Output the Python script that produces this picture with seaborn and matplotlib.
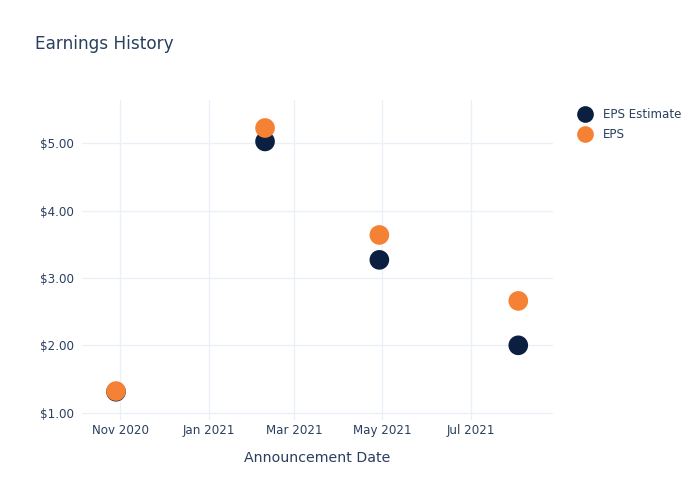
import matplotlib
matplotlib.use("Agg")
import matplotlib.pyplot as plt
import matplotlib.dates as mdates
from matplotlib.ticker import FuncFormatter, FixedLocator
import seaborn as sns
import pandas as pd

dates = ["2020-10-29", "2021-02-09", "2021-04-29", "2021-08-03"]
eps_estimate = [1.31, 5.03, 3.27, 2.00]
eps_actual = [1.32, 5.23, 3.64, 2.66]
series_names = ["EPS Estimate", "EPS"]
colors = ["#0b1f41", "#f58135"]
y_ticks = [1, 2, 3, 4, 5]

df = pd.DataFrame({
    "date": pd.to_datetime(dates * 2),
    "value": eps_estimate + eps_actual,
    "series": [series_names[0]] * len(dates) + [series_names[1]] * len(dates),
})

sns.set_theme(style="white")
plt.rcParams["font.family"] = ["DejaVu Sans"]
text_color = "#2a3f5f"
grid_color = "#ebf0f8"

fig = plt.figure(figsize=(7, 5), dpi=100)
ax = fig.add_axes([82 / 700, 1 - 420 / 500, (553 - 82) / 700, (420 - 100) / 500])

sns.scatterplot(data=df, x="date", y="value", hue="series", hue_order=series_names,
                palette=colors, s=200, edgecolor="none", linewidth=0, ax=ax,
                legend=True, zorder=3)

ax.set_xlim(pd.Timestamp("2020-10-05 12:00"), pd.Timestamp("2021-08-27"))
ax.set_ylim(0.89, 5.646)

ax.xaxis.set_major_locator(mdates.MonthLocator(bymonth=[1, 3, 5, 7, 9, 11]))
ax.xaxis.set_major_formatter(mdates.DateFormatter("%b %Y"))
ax.yaxis.set_major_locator(FixedLocator(y_ticks))
ax.yaxis.set_major_formatter(FuncFormatter(lambda v, p: f"${v:.2f}"))

ax.grid(True, color=grid_color, linewidth=1)
ax.set_axisbelow(True)
for s in ax.spines.values():
    s.set_visible(False)
ax.tick_params(axis="both", length=0, labelsize=8.6, colors=text_color)
ax.tick_params(axis="x", pad=3)
ax.tick_params(axis="y", pad=6)

ax.set_ylabel("")
ax.set_xlabel("Announcement Date", fontsize=10.2, color=text_color, labelpad=10)

leg = ax.legend(loc="upper left", bbox_to_anchor=(568 / 700, 1 - 103 / 500),
                bbox_transform=fig.transFigure, frameon=False, fontsize=8.6,
                handletextpad=0.5, labelspacing=0.6, borderaxespad=0,
                markerscale=0.85)
for t in leg.get_texts():
    t.set_color(text_color)

fig.text(35 / 700, 1 - 44 / 500, "Earnings History", fontsize=12.2,
         color=text_color, va="center", ha="left")

fig.savefig("out.png", dpi=100)
